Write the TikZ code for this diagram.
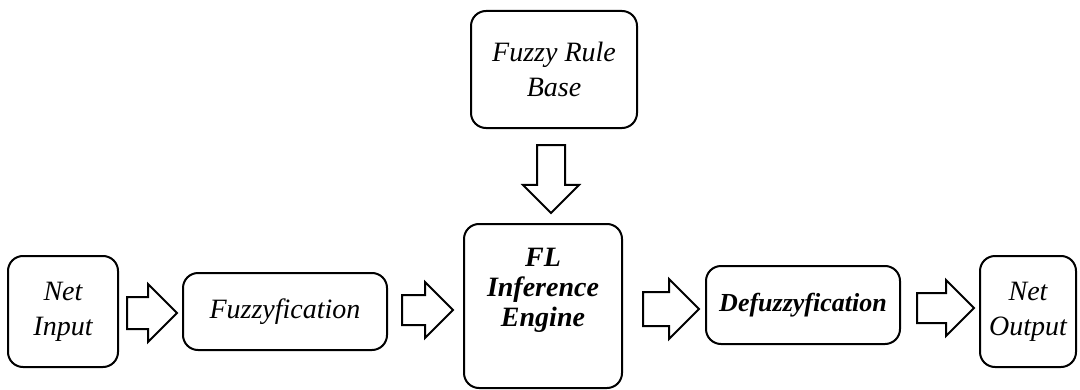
\documentclass[tikz,border=0pt]{standalone}
\usepackage{fontspec}
\setmainfont{Liberation Serif}
\usetikzlibrary{calc,shapes.arrows}

\tikzset{
  blk/.style={draw, line width=1pt, rounded corners=7.5pt, align=center,
    inner sep=0pt, font=\itshape\fontsize{14}{17.5}\selectfont},
  barrow/.style={draw, line width=1pt, single arrow, anchor=tail, inner xsep=0pt,
    inner ysep=7.5pt, single arrow head extend=6.5pt, minimum height=26pt},
}

\begin{document}
\begin{tikzpicture}[x=0.5pt, y=-0.5pt]
  \useasboundingbox (0,0) rectangle (1080,390);

  % blocks
  \node[blk, minimum width=55pt, minimum height=55.5pt] (ni) at (63,311.5) {Net\\Input};
  \node[blk, minimum width=102pt, minimum height=38.5pt] (fz) at (285,311.5) {Fuzzyfication};
  \node[blk, minimum width=83pt, minimum height=58.5pt] (frb) at (554,69.5) {Fuzzy Rule\\Base};
  \node[blk, minimum width=79pt, minimum height=82pt] (fle) at (543,306) {};
  \node[font=\bfseries\itshape\fontsize{14}{15}\selectfont, align=center]
    (fletxt) at ([yshift=8pt]fle.center) {FL\\Inference\\Engine};
  \node[blk, minimum width=97pt, minimum height=39pt,
    font=\bfseries\itshape\fontsize{13}{15}\selectfont] (dfz) at (803,305) {Defuzzyfication};
  \node[blk, minimum width=48pt, minimum height=55.5pt] (no) at (1028,311.5) {Net\\Output};

  % block arrows
  \node[barrow, minimum height=25pt] (a1) at ($(ni.east)+(7,1.5)$) {};
  \node[barrow, minimum height=25.5pt, inner ysep=7pt] (a2) at ($(fz.east)+(13,-1.5)$) {};
  \node[barrow, minimum height=28pt, inner ysep=8pt] (a3) at ($(fle.east)+(19,3)$) {};
  \node[barrow, minimum height=28.5pt, inner ysep=7pt] (a4) at ($(dfz.east)+(15,3)$) {};
  \node[barrow, rotate=-90, minimum height=34pt, inner ysep=6.5pt,
    single arrow head extend=7pt] (a5) at ($(frb.south)+(-3,15)$) {};
\end{tikzpicture}
\end{document}
